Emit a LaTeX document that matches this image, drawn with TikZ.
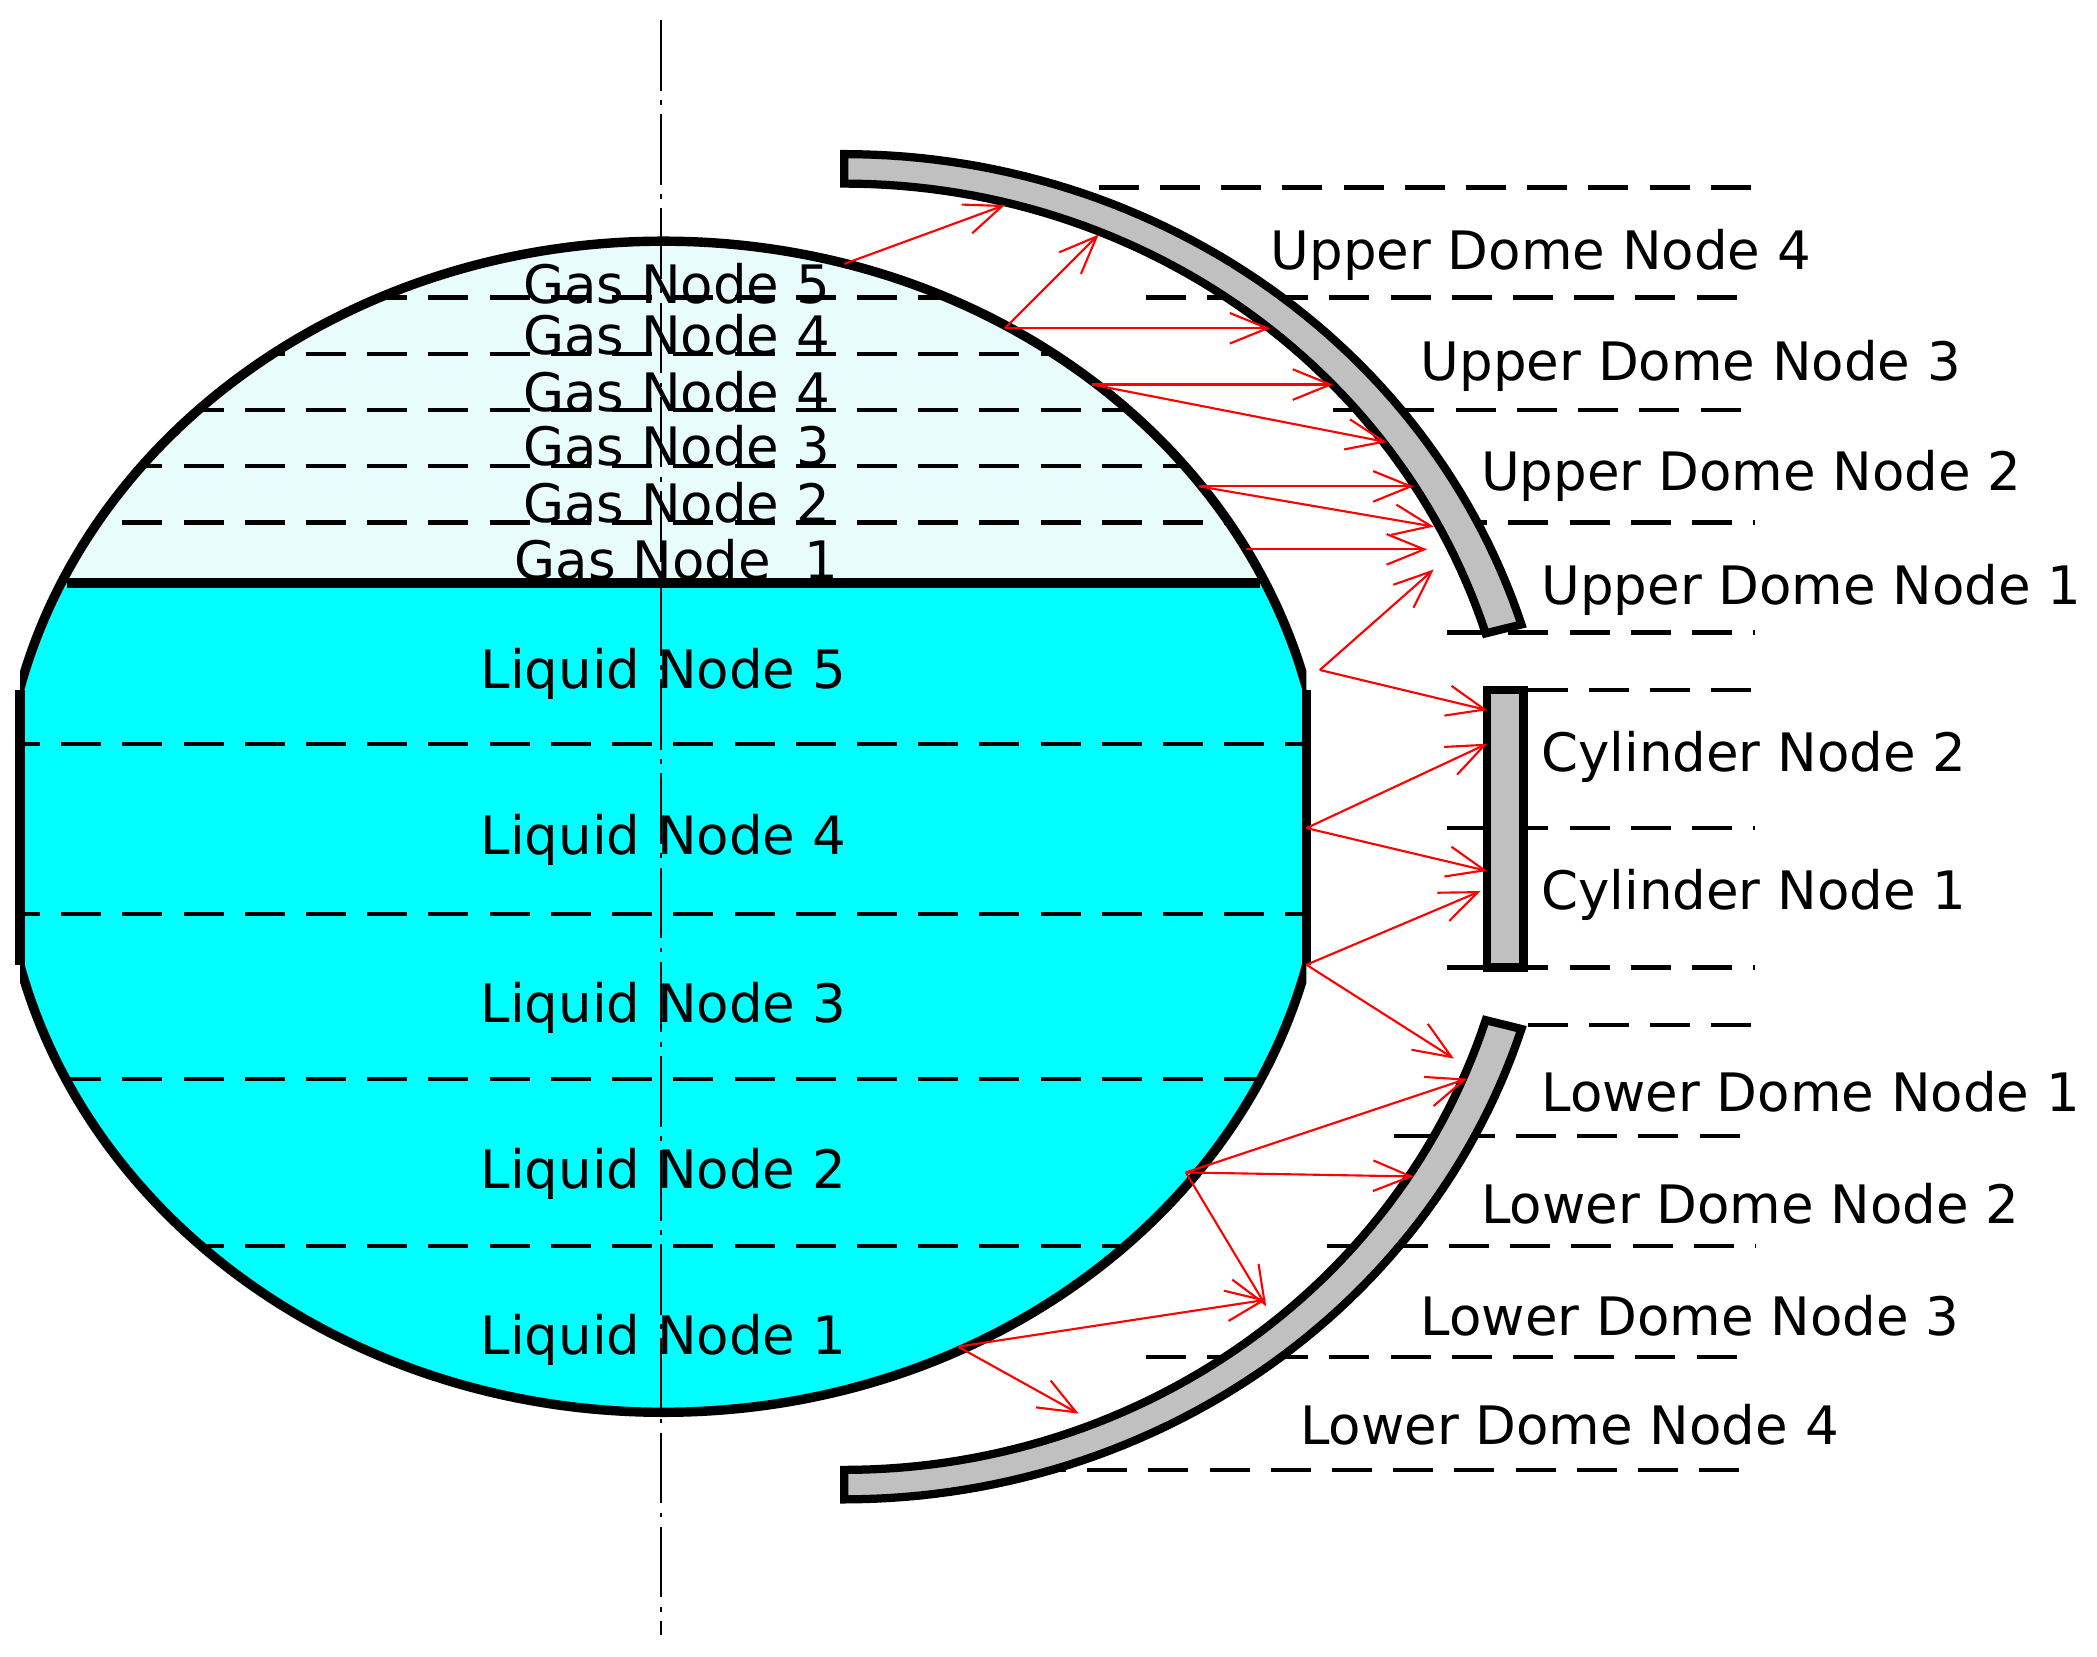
\documentclass[tikz,border=0pt]{standalone}
\usepackage{fontspec}
\setmainfont{DejaVu Sans}
\usetikzlibrary{arrows.meta}
\definecolor{gasc}{HTML}{E8FCFC}
\definecolor{liqc}{HTML}{00FFFF}
\definecolor{shellc}{HTML}{C0C0C0}
\tikzset{
 dline/.style={dash pattern=on 17pt off 9pt,line width=1.8pt},
 arr/.style={red,line width=0.9pt,-{Straight Barb[length=16pt,width=13pt]}},
 lbl/.style={font=\fontsize{22.5}{24}\selectfont,inner sep=0pt},
 shell/.style={fill=shellc,draw=black,line width=3.5pt},
}
\begin{document}
\begin{tikzpicture}[x=0.02cm,y=0.02cm]
\useasboundingbox (0,0) rectangle (1565,-1236);
% tank
\begin{scope}
\clip (15,0) rectangle (975,-1236);
\clip (495,-617) ellipse[x radius=494,y radius=437];
\fill[liqc] (0,-435) rectangle (1000,-1236);
\fill[gasc] (0,-435) rectangle (1000,0);
\foreach \yy in {222,264,306,348,390,555,682,805,930}
  \draw[dline] (0,-\yy) -- (1000,-\yy);
\end{scope}
\begin{scope}
\clip (15,0) rectangle (975,-1236);
\draw[line width=4pt] (495,-617) ellipse[x radius=494,y radius=437];
\end{scope}
\draw[line width=4pt] (15,-515) -- (15,-720) (975,-515) -- (975,-720);
\draw[line width=4pt] (50,-435) -- (940,-435);
% centre line
\draw[line width=0.8pt,dash pattern=on 30pt off 4pt on 2pt off 4pt] (493,-15) -- (493,-1220);
% right dashed lines
\foreach \yy/\xx in {140/820,222/855,306/995,390/1080,472/1080,515/1140,618/1080,722/1080,765/1140,848/1040,930/990,1013/855,1097/720}
  \draw[dline] (\xx,-\yy) -- (1310,-\yy);
% shell
\draw[shell] plot[domain=90:17.5,samples=60] ({630+530*cos(\x)},{-617+502*sin(\x)})
  -- plot[domain=17.5:90,samples=60] ({630+502*cos(\x)},{-617+480*sin(\x)}) -- cycle;
\draw[shell] plot[domain=-90:-17.5,samples=60] ({630+530*cos(\x)},{-617+502*sin(\x)})
  -- plot[domain=-17.5:-90,samples=60] ({630+502*cos(\x)},{-617+480*sin(\x)}) -- cycle;
\draw[shell] (1110,-515) rectangle (1137,-722);
% labels in tank
\foreach \t/\yy in {Gas Node 5/212,Gas Node 4/250,Gas Node 4/292,Gas Node 3/333,Gas Node 2/375,Gas Node\ \ 1/418}
  \node[lbl] at (505,-\yy) {\t};
\foreach \n/\yy in {5/503,4/627,3/752,2/876,1/1000}
  \node[lbl] at (495,-\yy) {Liquid Node \n};
% right labels
\node[lbl,anchor=west] (u4) at (948,-190) {Upper Dome Node 4};
\node[lbl,anchor=west] (u3) at (1060,-273) {Upper Dome Node 3};
\node[lbl,anchor=west] (u2) at (1105,-355) {Upper Dome Node 2};
\node[lbl,anchor=west] (u1) at (1150,-440) {Upper Dome Node 1};
\node[lbl,anchor=west] (c2) at (1150,-565) {Cylinder Node 2};
\node[lbl,anchor=west] (c1) at (1150,-668) {Cylinder Node 1};
\node[lbl,anchor=west] (l1) at (1150,-815) {Lower Dome Node 1};
\node[lbl,anchor=west] (l2) at (1105,-898) {Lower Dome Node 2};
\node[lbl,anchor=west] (l3) at (1060,-982) {Lower Dome Node 3};
\node[lbl,anchor=west] (l4) at (970,-1063) {Lower Dome Node 4};
% arrows
\coordinate (a) at (630,-197); \coordinate (b) at (750,-245);
\coordinate (c) at (815,-287); \coordinate (d) at (895,-363);
\coordinate (e) at (930,-410); \coordinate (f) at (985,-500);
\coordinate (g) at (975,-618); \coordinate (h) at (975,-720);
\coordinate (i) at (885,-875); \coordinate (j) at (715,-1005);
\draw[arr] (a) -- (750,-153);
\draw[arr] (b) -- (820,-175);
\draw[arr] (b) -- (948,-245);
\draw[arr] (c) -- (995,-287);
\draw[arr] (c) -- (1035,-330);
\draw[arr] (d) -- (1055,-363);
\draw[arr] (d) -- (1070,-393);
\draw[arr] (e) -- (1065,-410);
\draw[arr] (f) -- (1070,-425);
\draw[arr] (f) -- (1110,-530);
\draw[arr] (g) -- (1110,-555);
\draw[arr] (g) -- (1110,-650);
\draw[arr] (h) -- (1105,-665);
\draw[arr] (h) -- (1085,-790);
\draw[arr] (i) -- (1095,-805);
\draw[arr] (i) -- (1055,-878);
\draw[arr] (i) -- (945,-975);
\draw[arr] (j) -- (945,-970);
\draw[arr] (j) -- (805,-1055);
\end{tikzpicture}
\end{document}
